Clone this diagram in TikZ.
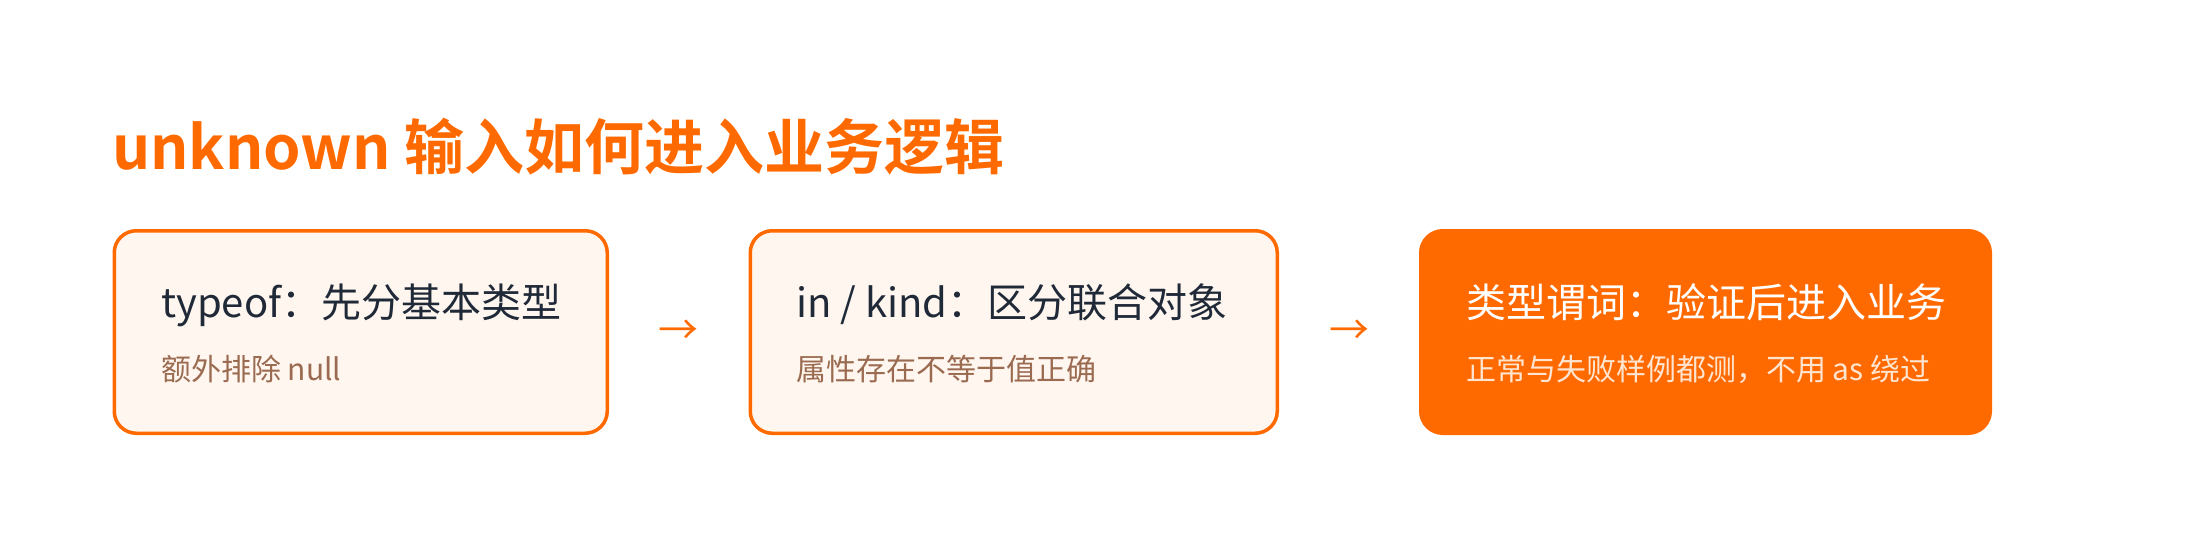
\documentclass[tikz,border=0pt]{standalone}
\usepackage{fontspec}
\setmainfont{Noto Sans CJK SC}[BoldFont={Noto Sans CJK SC Bold}]
\usetikzlibrary{calc}
\definecolor{accent}{HTML}{FF6A00}
\definecolor{cream}{HTML}{FFF6EF}
\definecolor{ink}{HTML}{1F2937}
\definecolor{muted}{HTML}{9A6B50}
\definecolor{peach}{HTML}{FFE4D0}
\tikzset{
  card/.style={rounded corners=22pt, line width=3.5pt, draw=accent, fill=cream,
    minimum height=202.5pt, inner sep=0pt, outer sep=0pt},
  hotcard/.style={card, fill=accent},
  headtxt/.style={anchor=base west, inner sep=0pt, font=\fontsize{40pt}{48pt}\selectfont, text=ink},
  subtxt/.style={anchor=base west, inner sep=0pt, font=\fontsize{30pt}{36pt}\selectfont, text=muted},
  flowarrow/.style={inner sep=0pt, font=\fontsize{40pt}{48pt}\selectfont, text=accent},
}
\begin{document}
\begin{tikzpicture}[x=1pt,y=-1pt]
\useasboundingbox (0,0) rectangle (2200,548);
\node[anchor=base west, inner sep=0pt, text=accent, font=\fontsize{60pt}{72pt}\selectfont\bfseries] (title) at (112,170) {unknown 输入如何进入业务逻辑};
\node[card, minimum width=493pt] (b1) at (360.75,332) {};
\node[card, minimum width=527pt] (b2) at (1013.75,332) {};
\node[hotcard, minimum width=569.5pt] (b3) at (1705.5,332) {};
\node[headtxt] (t1) at (161,317) {typeof：先分基本类型};
\node[subtxt] (s1) at (161,380) {额外排除 null};
\node[headtxt] (t2) at (796,317) {in / kind：区分联合对象};
\node[subtxt] (s2) at (796,380) {属性存在不等于值正确};
\node[headtxt, text=white] (t3) at (1466,317) {类型谓词：验证后进入业务};
\node[subtxt, text=peach] (s3) at (1466,380) {正常与失败样例都测，不用 as 绕过};
\node[flowarrow] (a1) at ($(b1.east)!0.5!(b2.west)$) {→};
\node[flowarrow] (a2) at ($(b2.east)!0.5!(b3.west)$) {→};
\end{tikzpicture}
\end{document}
